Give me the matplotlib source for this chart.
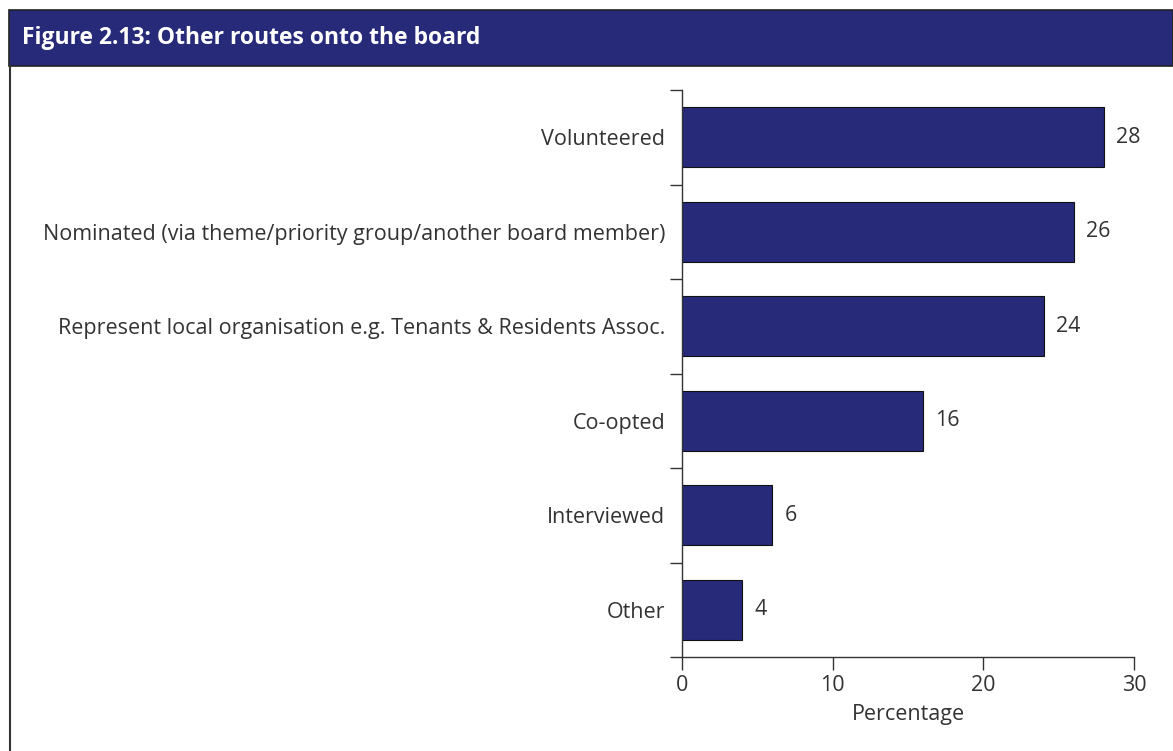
import matplotlib.pyplot as plt
from matplotlib.patches import Rectangle
from matplotlib.lines import Line2D
import numpy as np

plt.rcParams['font.family'] = ['Open Sans', 'DejaVu Sans']

routes = ['Volunteered',
          'Nominated (via theme/priority group/another board member)',
          'Represent local organisation e.g. Tenants & Residents Assoc.',
          'Co-opted',
          'Interviewed',
          'Other']
pct = [28, 26, 24, 16, 6, 4]

navy = '#262a78'
txt = '#333333'
fs = 15.5
W, H = 1173, 751

fig = plt.figure(figsize=(W / 100, H / 100), dpi=100)

# title bar and frame
fig.patches.append(Rectangle((9 / W, 1 - 66 / H), 1 - 9 / W, 56 / H,
                             transform=fig.transFigure, facecolor=navy,
                             edgecolor='#222222', lw=1.2))
fig.lines.append(Line2D([9.5 / W, 9.5 / W], [0, 1 - 66 / H],
                        transform=fig.transFigure, color='#333333', lw=1.5))
fig.text(22 / W, 1 - 38 / H, 'Figure 2.13: Other routes onto the board',
         color='white', fontsize=16.5, fontweight='bold', va='center', ha='left')

ax = fig.add_axes([682 / W, 1 - 657 / H, (1134 - 682) / W, (657 - 90) / H])
y = np.arange(len(routes))
bars = ax.barh(y, pct, height=0.64, color=navy, edgecolor='#111111', lw=0.8)
for b, v in zip(bars, pct):
    ax.text(b.get_width() + 0.8, b.get_y() + b.get_height() / 2, str(v),
            va='center', ha='left', fontsize=fs, color=txt)

ax.set_ylim(len(routes) - 0.5, -0.5)
ax.set_xlim(0, 30)
ax.set_yticks(y)
ax.set_yticklabels(routes, fontsize=fs, color=txt)
ax.set_yticks(np.arange(-0.5, len(routes)), minor=True)
ax.tick_params(axis='y', which='major', length=0, pad=12)
ax.tick_params(axis='y', which='minor', length=9, width=1, color='#333333')
ax.set_xticks([0, 10, 20, 30])
ax.tick_params(axis='x', length=9, width=1, color='#333333',
               labelsize=fs, labelcolor=txt, pad=4)
ax.set_xlabel('Percentage', fontsize=fs, color=txt, labelpad=6)
for s in ['top', 'right']:
    ax.spines[s].set_visible(False)
for s in ['left', 'bottom']:
    ax.spines[s].set_color('#333333')
    ax.spines[s].set_linewidth(1)

fig.savefig('out.png', dpi=100)
